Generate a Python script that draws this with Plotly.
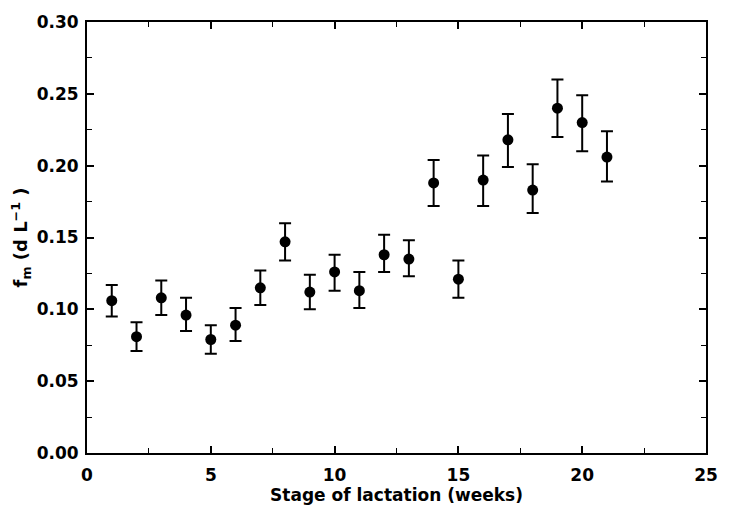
import plotly.graph_objects as go

weeks = [1, 2, 3, 4, 5, 6, 7, 8, 9, 10, 11, 12, 13, 14, 15, 16, 17, 18, 19, 20, 21]
fm = [0.106, 0.081, 0.108, 0.096, 0.079, 0.089, 0.115, 0.147, 0.112, 0.126, 0.113,
      0.138, 0.135, 0.188, 0.121, 0.190, 0.218, 0.183, 0.240, 0.230, 0.206]
upper = [0.117, 0.091, 0.120, 0.108, 0.089, 0.101, 0.127, 0.160, 0.124, 0.138, 0.126,
         0.152, 0.148, 0.204, 0.134, 0.207, 0.236, 0.201, 0.260, 0.249, 0.224]
lower = [0.095, 0.071, 0.096, 0.085, 0.069, 0.078, 0.103, 0.134, 0.100, 0.113, 0.101,
         0.126, 0.123, 0.172, 0.108, 0.172, 0.199, 0.167, 0.220, 0.210, 0.189]

err_plus = [u - v for u, v in zip(upper, fm)]
err_minus = [v - l for v, l in zip(fm, lower)]

font_family = "DejaVu Sans, Liberation Sans, sans-serif"

fig = go.Figure(go.Scatter(
    x=weeks, y=fm, mode="markers",
    marker=dict(color="black", size=11),
    error_y=dict(type="data", symmetric=False, array=err_plus, arrayminus=err_minus,
                 color="black", thickness=2, width=6),
    showlegend=False,
))

axis_common = dict(
    showline=True, linecolor="black", linewidth=2, mirror="allticks",
    ticks="inside", ticklen=7, tickwidth=1.5, tickcolor="black",
    showgrid=False, zeroline=False,
    tickfont=dict(family=font_family, size=17, color="black", weight="bold"),
)

fig.update_xaxes(
    range=[0, 25], tick0=0, dtick=5, ticklabelstandoff=6,
    minor=dict(ticks="inside", dtick=2.5, ticklen=5, tickwidth=1.2, tickcolor="black"),
    title=dict(text="Stage of lactation (weeks)", standoff=4,
               font=dict(family=font_family, size=17, color="black", weight="bold")),
    **axis_common,
)
fig.update_yaxes(
    range=[0, 0.30], tick0=0, dtick=0.05, tickformat=".2f", ticklabelstandoff=3,
    minor=dict(ticks="inside", dtick=0.025, ticklen=5, tickwidth=1.2, tickcolor="black"),
    title=dict(text="f<sub>m</sub> (d L<sup>−1</sup> )", standoff=4,
               font=dict(family=font_family, size=18, color="black", weight="bold")),
    **axis_common,
)

fig.update_layout(
    width=730, height=514,
    margin=dict(l=87, r=18, t=17, b=61),
    plot_bgcolor="white", paper_bgcolor="white",
)

fig.write_html("out.html")
